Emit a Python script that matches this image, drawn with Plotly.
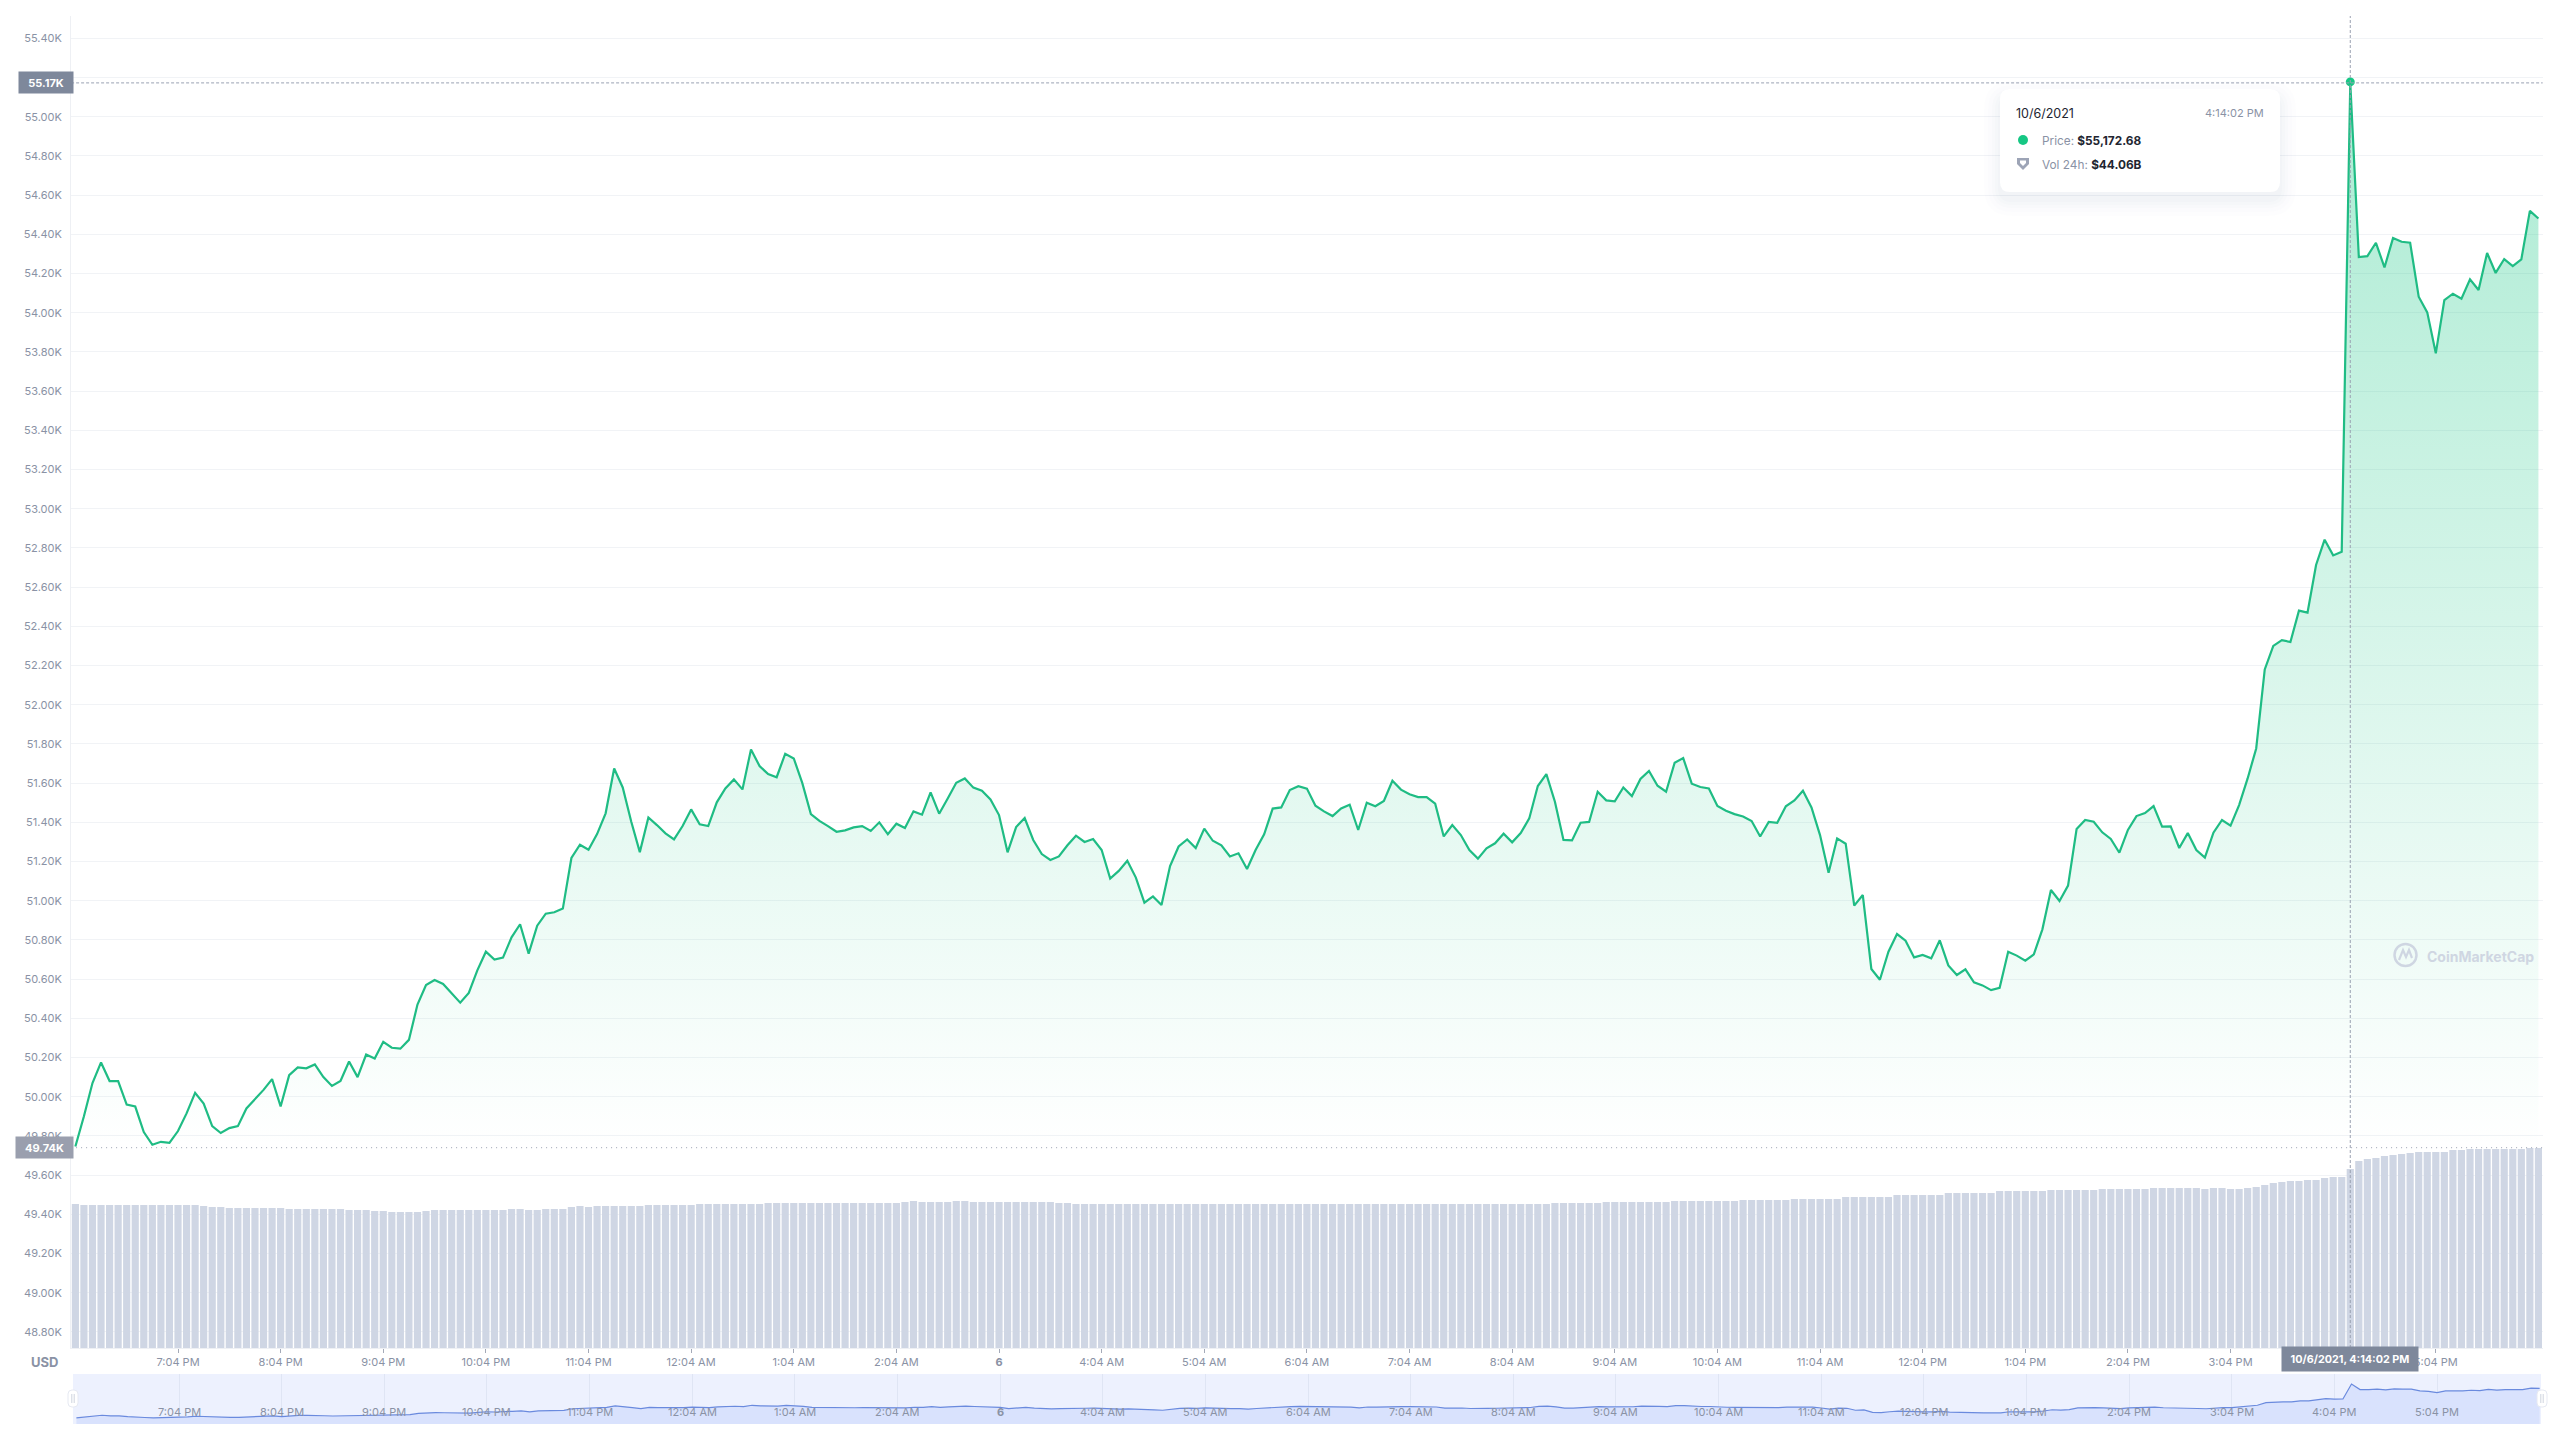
import pandas as pd
import plotly.graph_objects as go

W, H = 2560, 1440

start_time = "2021-10-05 18:04"
n_points = 289

price_k = [
    49.746, 49.90, 50.07, 50.175, 50.08, 50.08, 49.96, 49.95, 49.82, 49.755,
    49.77, 49.765, 49.825, 49.915, 50.02, 49.965, 49.85, 49.815, 49.84, 49.85,
    49.94, 49.985, 50.035, 50.09, 49.95, 50.11, 50.15, 50.145, 50.165, 50.10,
    50.055, 50.08, 50.18, 50.10, 50.215, 50.195, 50.28, 50.25, 50.245, 50.29,
    50.47, 50.57, 50.595, 50.575, 50.525, 50.48, 50.53, 50.645, 50.74, 50.70,
    50.71, 50.813, 50.88, 50.73, 50.873, 50.934, 50.941, 50.96, 51.218, 51.286,
    51.26, 51.34, 51.446, 51.675, 51.578, 51.403, 51.248, 51.425, 51.386, 51.344,
    51.313, 51.381, 51.466, 51.39, 51.381, 51.502, 51.573, 51.619, 51.568, 51.772,
    51.687, 51.646, 51.63, 51.75, 51.726, 51.60, 51.442, 51.407, 51.381, 51.352,
    51.359, 51.374, 51.381, 51.356, 51.40, 51.34, 51.393, 51.371, 51.456, 51.439,
    51.553, 51.444, 51.522, 51.602, 51.624, 51.577, 51.561, 51.517, 51.437, 51.247,
    51.376, 51.422, 51.31, 51.238, 51.208, 51.226, 51.283, 51.332, 51.30, 51.315,
    51.259, 51.113, 51.152, 51.204, 51.118, 50.99, 51.022, 50.978, 51.177, 51.277,
    51.313, 51.269, 51.368, 51.306, 51.283, 51.226, 51.242, 51.162, 51.259, 51.339,
    51.47, 51.476, 51.565, 51.584, 51.572, 51.485, 51.456, 51.432, 51.471, 51.49,
    51.361, 51.50, 51.482, 51.509, 51.612, 51.567, 51.543, 51.529, 51.529, 51.495,
    51.328, 51.386, 51.335, 51.259, 51.215, 51.267, 51.293, 51.342, 51.298, 51.345,
    51.42, 51.585, 51.646, 51.505, 51.31, 51.308, 51.398, 51.402, 51.556, 51.512,
    51.507, 51.578, 51.534, 51.621, 51.662, 51.587, 51.556, 51.704, 51.728, 51.597,
    51.58, 51.573, 51.483, 51.459, 51.442, 51.43, 51.407, 51.328, 51.402, 51.398,
    51.482, 51.512, 51.561, 51.476, 51.335, 51.143, 51.318, 51.291, 50.975, 51.029,
    50.652, 50.597, 50.74, 50.83, 50.796, 50.711, 50.723, 50.706, 50.798, 50.67,
    50.621, 50.65, 50.584, 50.568, 50.544, 50.556, 50.74, 50.72, 50.694, 50.726,
    50.854, 51.055, 50.999, 51.077, 51.366, 51.412, 51.403, 51.349, 51.315, 51.245,
    51.361, 51.432, 51.447, 51.483, 51.378, 51.379, 51.269, 51.345, 51.259, 51.22,
    51.347, 51.412, 51.383, 51.488, 51.624, 51.777, 52.18, 52.30, 52.33, 52.32,
    52.48, 52.47, 52.713, 52.842, 52.762, 52.781, 55.17268, 54.284, 54.289, 54.357,
    54.231, 54.381, 54.362, 54.357, 54.082, 54.002, 53.793, 54.065, 54.097, 54.072,
    54.17, 54.116, 54.305, 54.203, 54.274, 54.238, 54.272, 54.52, 54.481,
]

volume_b = [
    35.44, 35.19, 35.19, 35.19, 35.19, 35.19, 35.19, 35.19, 35.19, 35.19,
    35.19, 35.19, 35.19, 35.19, 35.19, 34.95, 34.70, 34.70, 34.45, 34.45,
    34.45, 34.45, 34.45, 34.45, 34.45, 34.21, 34.21, 34.21, 34.21, 34.21,
    34.21, 34.21, 33.96, 33.96, 33.96, 33.72, 33.72, 33.47, 33.47, 33.47,
    33.47, 33.72, 33.96, 33.96, 33.96, 33.96, 33.96, 33.96, 33.96, 33.96,
    33.96, 34.21, 34.21, 33.96, 33.96, 34.21, 34.21, 34.21, 34.70, 34.95,
    34.70, 34.95, 34.95, 34.95, 34.95, 34.95, 34.95, 35.19, 35.19, 35.19,
    35.19, 35.19, 35.19, 35.44, 35.44, 35.44, 35.44, 35.44, 35.44, 35.44,
    35.44, 35.68, 35.68, 35.68, 35.68, 35.68, 35.68, 35.68, 35.68, 35.68,
    35.68, 35.68, 35.68, 35.68, 35.68, 35.68, 35.68, 35.93, 36.18, 35.93,
    35.93, 35.93, 35.93, 36.18, 36.18, 35.93, 35.93, 35.93, 35.93, 35.93,
    35.93, 35.93, 35.93, 35.93, 35.93, 35.68, 35.68, 35.44, 35.44, 35.44,
    35.44, 35.44, 35.44, 35.44, 35.44, 35.44, 35.44, 35.44, 35.44, 35.44,
    35.44, 35.44, 35.44, 35.44, 35.44, 35.44, 35.44, 35.44, 35.44, 35.44,
    35.44, 35.44, 35.44, 35.44, 35.44, 35.44, 35.44, 35.44, 35.44, 35.44,
    35.44, 35.44, 35.44, 35.44, 35.44, 35.44, 35.44, 35.44, 35.44, 35.44,
    35.44, 35.44, 35.44, 35.44, 35.44, 35.44, 35.44, 35.44, 35.44, 35.44,
    35.44, 35.44, 35.44, 35.68, 35.68, 35.68, 35.68, 35.68, 35.68, 35.93,
    35.93, 35.93, 35.93, 35.93, 35.93, 35.93, 35.93, 36.18, 36.18, 36.18,
    36.18, 36.18, 36.18, 36.18, 36.18, 36.42, 36.42, 36.42, 36.42, 36.42,
    36.42, 36.67, 36.67, 36.67, 36.67, 36.67, 36.67, 37.16, 37.16, 37.16,
    37.16, 37.16, 37.16, 37.65, 37.65, 37.65, 37.65, 37.65, 37.65, 38.15,
    38.15, 38.15, 38.15, 38.15, 38.15, 38.64, 38.64, 38.64, 38.64, 38.64,
    38.64, 38.88, 38.88, 38.88, 38.88, 38.88, 38.88, 39.13, 39.13, 39.13,
    39.13, 39.13, 39.13, 39.38, 39.38, 39.38, 39.38, 39.38, 39.38, 39.13,
    39.38, 39.38, 39.13, 39.13, 39.38, 39.62, 40.11, 40.61, 40.85, 41.10,
    41.10, 41.34, 41.34, 41.84, 42.08, 42.08, 44.06, 46.02, 46.51, 46.76,
    47.25, 47.50, 47.74, 47.99, 48.24, 48.24, 48.24, 48.24, 48.73, 48.73,
    48.97, 48.97, 48.97, 48.97, 48.97, 48.97, 48.97, 49.22, 49.22,
]

assert len(price_k) == n_points, len(price_k)
assert len(volume_b) == n_points, len(volume_b)

price_ticks = [48.8, 49.0, 49.2, 49.4, 49.6, 49.8, 50.0, 50.2, 50.4, 50.6, 50.8, 51.0,
               51.2, 51.4, 51.6, 51.8, 52.0, 52.2, 52.4, 52.6, 52.8, 53.0, 53.2, 53.4,
               53.6, 53.8, 54.0, 54.2, 54.4, 54.6, 54.8, 55.0, 55.2, 55.4]
price_tick_labels = [f"{v:.2f}K" for v in price_ticks]

time_tick_labels = ["7:04 PM", "8:04 PM", "9:04 PM", "10:04 PM", "11:04 PM", "12:04 AM", "1:04 AM",
                    "2:04 AM", "<b>6</b>", "4:04 AM", "5:04 AM", "6:04 AM", "7:04 AM", "8:04 AM",
                    "9:04 AM", "10:04 AM", "11:04 AM", "12:04 PM", "1:04 PM", "2:04 PM", "3:04 PM",
                    "4:04 PM", "5:04 PM"]

first_price_k = 49.74
peak_index = 266
peak_price_k = 55.17268

GREEN = "#16c784"
LINE = "#1fbc84"
GREY = "#8a92a5"
GRID = "#f1f3f6"
FONT = "Inter"

times = pd.date_range(start_time, periods=n_points, freq="5min")
time_ticks = pd.date_range("2021-10-05 19:04", periods=len(time_tick_labels), freq="1h")
step = pd.Timedelta(minutes=5)


def px(x):
    return x / W


def py(y):
    return 1 - y / H


def rounded(x0, y0, x1, y1, r):
    a, b, c, d = px(x0), py(y0), px(x1), py(y1)
    rx, ry = r / W, r / H
    return (f"M{a + rx},{b} L{c - rx},{b} Q{c},{b} {c},{b - ry} L{c},{d + ry} Q{c},{d} {c - rx},{d} "
            f"L{a + rx},{d} Q{a},{d} {a},{d + ry} L{a},{b - ry} Q{a},{b} {a + rx},{b} Z")


def poly(points):
    return "M" + " L".join(f"{px(x)},{py(y)}" for x, y in points) + " Z"


fig = go.Figure()

fig.add_trace(go.Bar(x=times, y=volume_b, yaxis="y2", marker=dict(color="#cfd6e4", line=dict(width=0)),
                     hoverinfo="skip", showlegend=False))
fig.add_trace(go.Scatter(
    x=times, y=price_k, mode="lines", line=dict(color=LINE, width=2.2), fill="tozeroy",
    fillgradient=dict(type="vertical",
                      colorscale=[[0, "rgba(22,199,132,0)"], [1, "rgba(22,199,132,0.36)"]],
                      start=first_price_k, stop=peak_price_k),
    hoverinfo="skip", showlegend=False))
fig.add_trace(go.Scatter(x=[times[peak_index]], y=[peak_price_k + 0.005], mode="markers",
                         marker=dict(color=GREEN, size=9), hoverinfo="skip", showlegend=False))
fig.add_trace(go.Scatter(x=times, y=price_k, xaxis="x2", yaxis="y3", mode="lines",
                         line=dict(color="#6a8ade", width=1.2), fill="tozeroy",
                         fillcolor="#d9e2fd", hoverinfo="skip", showlegend=False))

main_left, main_right = 71.1, 2542.7
nav_left, nav_right = 73.0, 2541.0
px_per_step = 8.553
nav_first_px = 76.4
nav_range = [times[0] + step * ((nav_left - nav_first_px) / px_per_step),
             times[0] + step * ((nav_right - nav_first_px) / px_per_step)]

shapes = [
    dict(type="rect", xref="paper", yref="paper", x0=px(nav_left), x1=px(nav_right), y0=py(1424), y1=py(1374),
         fillcolor="#edf1fe", line_width=0, layer="below"),
    dict(type="line", xref="x domain", yref="y", x0=0, x1=1, y0=peak_price_k, y1=peak_price_k,
         line=dict(color="#9aa1b2", width=1, dash="3px,2px"), layer="above"),
    dict(type="line", xref="x domain", yref="y", x0=0, x1=1, y0=first_price_k, y1=first_price_k,
         line=dict(color="#9aa1b2", width=1, dash="1px,4px"), layer="above"),
    dict(type="line", xref="x", yref="y domain", x0=times[peak_index], x1=times[peak_index], y0=0, y1=1,
         line=dict(color="#9aa1b2", width=1, dash="3px,2px"), layer="above"),
]

# tooltip shadow + card
for grow, alpha in [(16, 0.006), (12, 0.008), (8, 0.010), (5, 0.012), (2, 0.016)]:
    shapes.append(dict(type="path", xref="paper", yref="paper",
                       path=rounded(2000 - grow, 89 - grow + 8, 2280 + grow, 192 + grow + 8, 12 + grow),
                       fillcolor=f"rgba(40,60,110,{alpha})", line_width=0, layer="above"))
shapes.append(dict(type="path", xref="paper", yref="paper", path=rounded(2000, 89, 2280, 192, 10),
                   fillcolor="white", line_width=0, layer="above"))
# tooltip markers
shapes.append(dict(type="circle", xref="paper", yref="paper", x0=px(2018), x1=px(2028), y0=py(145), y1=py(135),
                   fillcolor=GREEN, line_width=0, layer="above"))
shapes.append(dict(type="path", xref="paper", yref="paper",
                   path=poly([(2017, 158), (2029, 158), (2029, 164), (2023, 170), (2017, 164)]),
                   fillcolor="#9da4b6", line_width=0, layer="above"))
shapes.append(dict(type="path", xref="paper", yref="paper",
                   path=poly([(2020, 160.5), (2026, 160.5), (2026, 163), (2023, 166), (2020, 163)]),
                   fillcolor="white", line_width=0, layer="above"))
# navigator handles
for hx in (73, 2542):
    shapes.append(dict(type="path", xref="paper", yref="paper", path=rounded(hx - 5, 1390, hx + 5, 1407, 4),
                       fillcolor="white", line=dict(color="#e6e9f2", width=1), layer="above"))
    for off in (-1.2, 1.2):
        shapes.append(dict(type="line", xref="paper", yref="paper", x0=px(hx + off), x1=px(hx + off),
                           y0=py(1394), y1=py(1403), line=dict(color="#c3c9d6", width=0.8), layer="above"))
# watermark logo
shapes.append(dict(type="circle", xref="paper", yref="paper", x0=px(2394.5), x1=px(2416.5), y0=py(966), y1=py(944),
                   line=dict(color="#cfd6e2", width=2.5), layer="above"))
shapes.append(dict(type="path", xref="paper", yref="paper",
                   path="M" + " L".join(f"{px(x)},{py(y)}" for x, y in
                                        [(2399, 960), (2403, 950), (2406, 957), (2409, 950), (2412, 958)]),
                   line=dict(color="#cfd6e2", width=2.2), layer="above"))


def note(text, x, y, xanchor="left", size=11, color=GREY, **kw):
    return dict(text=text, xref="paper", yref="paper", x=px(x), y=py(y), xanchor=xanchor, yanchor="middle",
                showarrow=False, font=dict(family=FONT, size=size, color=color), borderpad=0, borderwidth=0, **kw)


annotations = [
    dict(text="<b>55.17K</b>", xref="paper", yref="y", x=px(46), y=peak_price_k, xanchor="center", yanchor="middle",
         showarrow=False, width=52, height=19, bgcolor="#7e889b", font=dict(family=FONT, size=11, color="white")),
    dict(text="<b>49.74K</b>", xref="paper", yref="y", x=px(44.5), y=first_price_k, xanchor="center", yanchor="middle",
         showarrow=False, width=55, height=19, bgcolor="#9a9fae", font=dict(family=FONT, size=11, color="white")),
    dict(text="<b>10/6/2021, 4:14:02 PM</b>", xref="x", yref="paper", x=times[peak_index], y=py(1359), xanchor="center",
         yanchor="middle", showarrow=False, width=134, height=22, bgcolor="#7e889b",
         font=dict(family=FONT, size=10.8, color="white")),
    note("<b>USD</b>", 44.5, 1362, xanchor="center", size=13, color="#8a92a5"),
    note("10/6/2021", 2016, 113, size=12.5, color="#222531"),
    note("4:14:02 PM", 2264, 113, xanchor="right", size=11),
    note('Price: <span style="color:#222531"><b>$55,172.68</b></span>', 2041.5, 141, size=11.8),
    note('Vol 24h: <span style="color:#222531"><b>$44.06B</b></span>', 2041.5, 165, size=11.8),
    note("<b>CoinMarketCap</b>", 2534, 956, xanchor="right", size=14, color="#cfd6e2"),
]
for t, label in zip(time_ticks, time_tick_labels):
    annotations.append(dict(text=label, xref="x2", yref="paper", x=t, y=py(1412), xanchor="center", yanchor="middle",
                            showarrow=False, font=dict(family=FONT, size=11, color="#8a92a5")))

fig.update_layout(
    width=W, height=H, margin=dict(l=0, r=0, t=0, b=0), paper_bgcolor="white", plot_bgcolor="rgba(0,0,0,0)",
    font=dict(family=FONT, size=11, color=GREY), bargap=0.16, showlegend=False,
    xaxis=dict(domain=[px(main_left), px(main_right)], anchor="y", type="date",
               range=[times[0] - step / 2, times[-1] + step / 2],
               tickmode="array", tickvals=list(time_ticks), ticktext=time_tick_labels,
               ticks="outside", ticklen=4, tickwidth=1, tickcolor="#a4aab8",
               showgrid=False, showline=True, linecolor="#eef0f4", zeroline=False,
               tickfont=dict(family=FONT, size=11, color=GREY)),
    yaxis=dict(domain=[py(1348), py(16)], anchor="x", range=[48.718, 55.514],
               tickmode="array", tickvals=price_ticks, ticktext=price_tick_labels,
               ticks="outside", ticklen=6, tickcolor="rgba(0,0,0,0)", tickwidth=1,
               showgrid=True, gridcolor=GRID, gridwidth=1, zeroline=False,
               showline=True, linecolor="#eef0f4", tickfont=dict(family=FONT, size=11, color=GREY)),
    yaxis2=dict(domain=[py(1348), py(16)], anchor="x", overlaying="y", side="right", range=[0, 327.8],
                showgrid=False, showticklabels=False, ticks="", zeroline=False, showline=False),
    xaxis2=dict(domain=[px(nav_left), px(nav_right)], anchor="y3", type="date", range=nav_range,
                tickmode="array", tickvals=list(time_ticks), showticklabels=False, ticks="",
                showgrid=True, gridcolor="#dfe5f4", gridwidth=1, zeroline=False, showline=False),
    yaxis3=dict(domain=[py(1424), py(1374)], anchor="x2", range=[48.78, 56.77],
                showgrid=False, showticklabels=False, ticks="", zeroline=False, showline=False),
    shapes=shapes, annotations=annotations,
)

fig.write_html("out.html", config={"displayModeBar": False},
               post_script="document.body.style.margin='0';document.documentElement.style.overflow='hidden';")
